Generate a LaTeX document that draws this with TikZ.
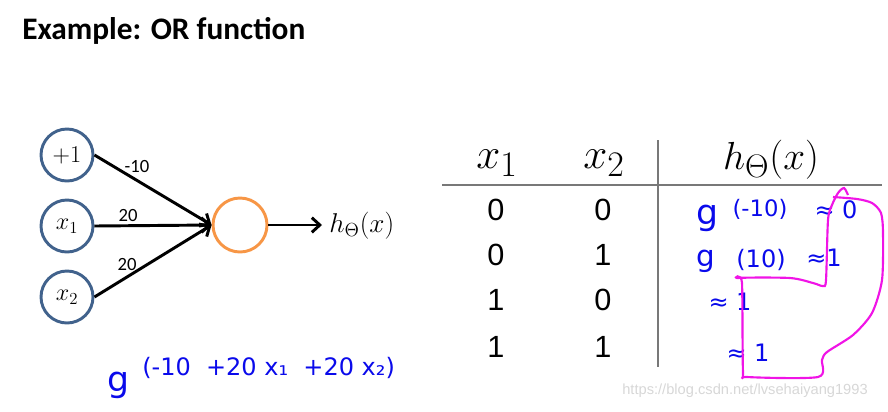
\documentclass[tikz,border=0pt]{standalone}
\usepackage[no-math]{fontspec}
\setmainfont{Liberation Sans}
\newfontfamily\titlefont{Carlito}
\newfontfamily\handfont{DejaVu Sans}
\usetikzlibrary{arrows.meta}
\definecolor{inblue}{RGB}{65,98,140}
\definecolor{outorange}{RGB}{247,150,70}
\definecolor{pen}{RGB}{10,10,235}
\definecolor{marker}{RGB}{240,20,230}
\definecolor{tablerule}{RGB}{120,120,120}
\definecolor{wmark}{RGB}{215,215,215}
\newcommand{\bigmath}[2]{\scalebox{#1}{\fontsize{24.88}{28}\selectfont$#2$}}
\newcommand{\midmath}[2]{\scalebox{#1}{\fontsize{17.28}{20}\selectfont$#2$}}
\begin{document}
\begin{tikzpicture}[x=0.75pt,y=-0.75pt,
  unit/.style={circle,draw=inblue,line width=2.2pt,minimum size=39pt,inner sep=0pt},
  outunit/.style={circle,draw=outorange,line width=2.2pt,minimum size=40.5pt,inner sep=0pt},
  conn/.style={line width=2.2pt,-{Straight Barb[length=6pt,width=11pt]}},
  wlabel/.style={font=\titlefont\fontsize{14}{16}\selectfont,inner sep=0pt},
  head/.style={inner sep=0pt,anchor=base},
  digit/.style={font=\fontsize{23}{26}\selectfont,inner sep=0pt},
  tline/.style={draw=tablerule,line width=1.1pt},
  hand/.style={text=pen,inner sep=0pt,font=\handfont\fontsize{18}{20}\selectfont},
  handg/.style={text=pen,inner sep=0pt,font=\handfont\fontsize{26}{28}\selectfont}]
\useasboundingbox (0,0) rectangle (888,411);
% title
\node[anchor=base west,inner sep=0pt,font=\titlefont\bfseries\fontsize{23.5}{28}\selectfont] (title) at (22,39.5) {Example: OR function};
% network
\node[unit] (b) at (67,155) {\midmath{1.05}{+1}};
\node[unit] (x1) at (67,226) {\midmath{1.05}{x_1}};
\node[unit] (x2) at (67,297) {\midmath{1.05}{x_2}};
\node[outunit] (o) at (240,225) {};
\coordinate (end) at (322,225);
\draw[conn] (b.east) -- (o.west);
\draw[conn] (x1.east) -- (o.west);
\draw[conn] (x2.east) -- (o.west);
\draw[conn] (o.east) -- (end);
\node[anchor=base west,inner sep=0pt] (hout) at (329,232) {\midmath{1.18}{h_\Theta(x)}};
\node[wlabel] (w0) at (137,167) {-10};
\node[wlabel] (w1) at (128,216) {20};
\node[wlabel] (w2) at (127,264) {20};
% bottom handwriting
\node[handg] (gb) at (119,385) {g};
\node[hand,anchor=west,font=\handfont\fontsize{18}{20}\selectfont] (gbarg) at (142,368) {(-10\ \ +20 x₁\ \ +20 x₂)};
% table
\node[head] (hx1) at (497,168) {\bigmath{1.3}{x_1}};
\node[head] (hx2) at (604,168) {\bigmath{1.3}{x_2}};
\node[head] (hh) at (771,169) {\bigmath{1.18}{h_\Theta(x)}};
\coordinate (hl) at (442,185);
\coordinate (hr) at (882,185);
\coordinate (vt) at (658,140);
\coordinate (vb) at (658,367);
\draw[tline] (hl) -- (hr);
\draw[tline] (vt) -- (vb);
\node[digit] (r1a) at (496,210) {0};
\node[digit] (r1b) at (603,210) {0};
\node[digit] (r2a) at (496,255) {0};
\node[digit] (r2b) at (603,255) {1};
\node[digit] (r3a) at (496,300) {1};
\node[digit] (r3b) at (603,300) {0};
\node[digit] (r4a) at (496,347) {1};
\node[digit] (r4b) at (603,347) {1};
% handwritten annotations in table
\node[handg] (g1) at (707,218) {g};
\node[hand,font=\handfont\fontsize{17}{19}\selectfont] (g1arg) at (760,209) {(-10)};
\node[hand] (g1val) at (836,210) {≈ 0};
\node[handg,font=\handfont\fontsize{22}{24}\selectfont] (g2) at (706,261) {g};
\node[hand] (g2arg) at (761,260) {(10)};
\node[hand] (g2val) at (824,258) {≈1};
\node[hand] (v3) at (730,302) {≈ 1};
\node[hand] (v4) at (748,353) {≈ 1};
% magenta loop
\draw[marker,line width=1.6pt] plot[smooth,tension=0.45] coordinates {
 (833,197) (857,199) (872,203) (881,213) (883,233) (882,280) (872,313) (853,335)
 (827,352) (822,360) (818,377) (747,377) (743,372) (742,283) (738,278) (790,278)
 (813,283) (823,286) (826,280) (828,220) (832,205) (838,193) (844,188) (848,195)};
% watermark
\node[text=wmark,inner sep=0pt,font=\fontsize{11}{13}\selectfont] (wm) at (745,391) {https://blog.csdn.net/lvsehaiyang1993};
\end{tikzpicture}
\end{document}
